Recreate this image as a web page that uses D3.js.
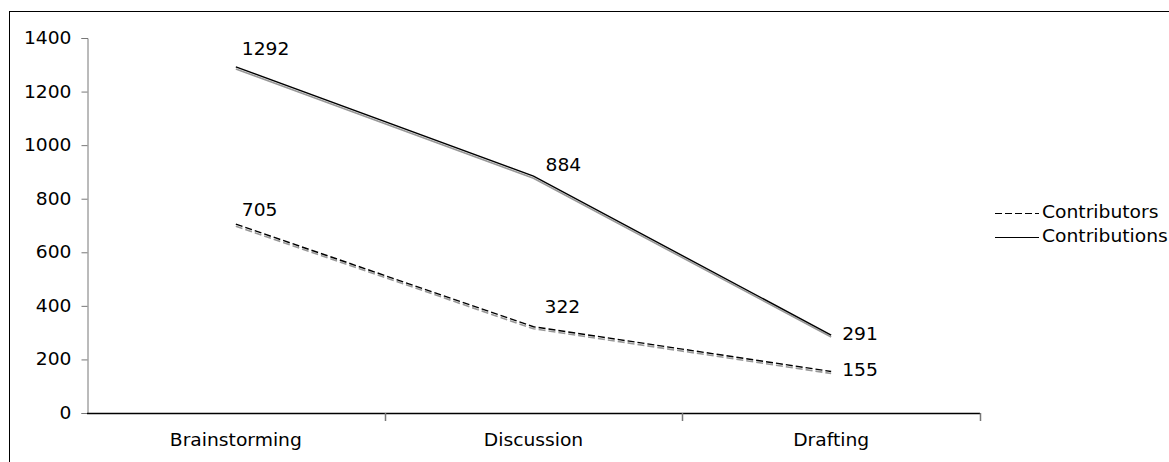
<!DOCTYPE html>
<html><head><meta charset="utf-8">
<script src="https://cdn.jsdelivr.net/npm/d3@7"></script>
<style>body{margin:0;background:#fff}svg{display:block}text{font-family:"DejaVu Sans",Verdana,sans-serif;font-size:17px;fill:#000}</style>
</head><body>
<svg id="c" width="1169" height="462"></svg>
<script>
const categories = ["Brainstorming", "Discussion", "Drafting"];
const contributors = [705, 322, 155];
const contributions = [1292, 884, 291];
const seriesNames = ["Contributors", "Contributions"];
const yTicks = [0, 200, 400, 600, 800, 1000, 1200, 1400];

const SX = 1.1; // horizontal text stretch
const svg = d3.select("#c");
svg.append("rect").attr("x", 9.5).attr("y", 11.5).attr("width", 1300).attr("height", 600)
  .attr("fill", "none").attr("stroke", "#000").attr("stroke-width", 1);

const x0 = 87, x1 = 980, yTop = 38, yBot = 413;
const xb = d3.scaleBand().domain(categories).range([x0, x1]);
const y = d3.scaleLinear().domain([0, 1400]).range([yBot, yTop]);
const xc = c => xb(c) + xb.bandwidth() / 2;

// y axis
const ya = svg.append("g").attr("transform", `translate(${x0 + 0.5},0)`)
  .call(d3.axisLeft(y).tickValues(yTicks).tickFormat(d3.format("d")).tickSize(6).tickPadding(10));
ya.select(".domain").attr("stroke", "#777");
ya.selectAll(".tick line").attr("stroke", "#777");
ya.selectAll("text").style("font-size", "17px").style("font-family", "DejaVu Sans").attr("fill", "#000")
  .attr("x", -16 / SX).attr("transform", `scale(${SX},1)`);

// x axis
const xa = svg.append("g").attr("transform", `translate(0,${yBot + 0.5})`)
  .call(d3.axisBottom(xb).tickSize(0).tickPadding(20));
xa.select(".domain").attr("stroke", "#000").attr("stroke-width", 1.5).attr("d", `M${x0},0H${x1}`);
xa.selectAll("text").style("font-size", "17px").style("font-family", "DejaVu Sans").attr("fill", "#000")
  .attr("transform", `scale(${SX},1)`);
const bounds = categories.map(c => xb(c) + xb.bandwidth());
svg.append("g").selectAll("line").data(bounds).join("line")
  .attr("x1", d => Math.round(d) + 0.5).attr("x2", d => Math.round(d) + 0.5)
  .attr("y1", yBot).attr("y2", yBot + 8).attr("stroke", "#777").attr("stroke-width", 1.5);

const line = d3.line().x((d, i) => xc(categories[i])).y(d => y(d));

function drawSeries(vals, dash) {
  const g = svg.append("g");
  g.append("path").datum(vals).attr("d", line).attr("fill", "none")
    .attr("stroke", "#999").attr("stroke-width", 1.6).attr("transform", "translate(0,2)")
    .attr("stroke-dasharray", dash);
  g.append("path").datum(vals).attr("d", line).attr("fill", "none")
    .attr("stroke", "#000").attr("stroke-width", 1.4)
    .attr("stroke-dasharray", dash);
}
drawSeries(contributors, "7,3");
drawSeries(contributions, null);

const offContributors = [[6, -13], [11, -19], [11, 0]];
const offContributions = [[6, -17], [12, -10], [11, 0]];
function stretchedText(g, x, yy, str) {
  return g.append("text").attr("transform", `translate(${x},${yy}) scale(${SX},1)`)
    .attr("dominant-baseline", "middle").text(str);
}
function labels(vals, offs) {
  const g = svg.append("g");
  vals.forEach((d, i) => stretchedText(g, xc(categories[i]) + offs[i][0], y(d) + offs[i][1], d));
}
labels(contributors, offContributors);
labels(contributions, offContributions);

// legend
const lg = svg.append("g");
const ly = [213, 237];
seriesNames.forEach((n, i) => {
  lg.append("line").attr("x1", 995).attr("x2", 1039).attr("y1", ly[i] + 0.5).attr("y2", ly[i] + 0.5)
    .attr("stroke", "#000").attr("stroke-width", 1)
    .attr("stroke-dasharray", i === 0 ? "7,3" : null);
  stretchedText(lg, 1042, ly[i], n);
});
</script>
</body></html>
